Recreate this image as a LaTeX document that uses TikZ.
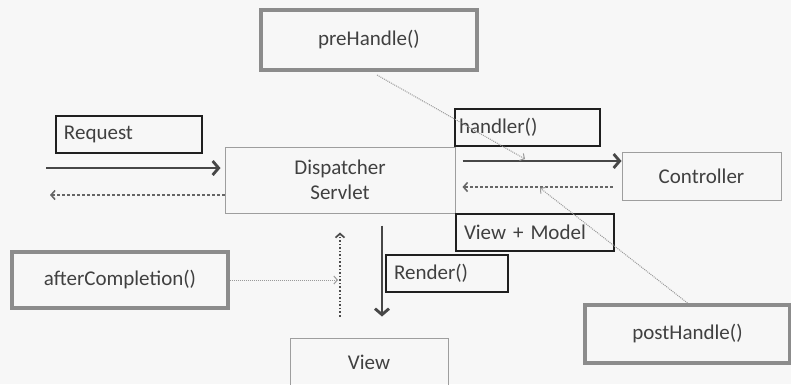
\documentclass[tikz,border=0pt]{standalone}
\usepackage{fontspec}
\setmainfont{Carlito}
\usetikzlibrary{arrows.meta}

\begin{document}
\begin{tikzpicture}[x=1pt, y=-1pt,
		txt/.style={font=\fontsize{21}{25}\selectfont, text=black!75},
		hook/.style={txt, draw=black!45, line width=1.4mm, inner sep=0pt},
		tag/.style={txt, draw=black!88, line width=0.7mm, inner xsep=8pt, inner ysep=0pt, align=left, anchor=west, minimum height=37pt},
		part/.style={txt, draw=black!38, line width=0.35mm, inner sep=0pt, align=center},
		flow/.style={line width=1mm, color=black!72, -{Straight Barb[length=6pt,width=14pt]}},
		back/.style={line width=0.55mm, color=black!60, densely dashed, -{Straight Barb[length=4pt,width=9pt]}},
		hint/.style={line width=0.35mm, color=black!40, densely dotted, -{Straight Barb[length=3.5pt,width=8pt,line width=0.35mm]}}]
			%%%%% START %%%%%
			
			\useasboundingbox[fill=black!3] (0, 0) rectangle (791, 384);
			
			\node[part, minimum width=230pt, minimum height=66pt] (disp) at (340, 180) {Dispatcher\\Servlet};
			\node[part, minimum width=159pt, minimum height=48pt] (ctrl) at (701.5, 176) {Controller};
			\node[part, minimum width=158pt, minimum height=48pt] (view) at (369, 362) {View};
			
			\node[hook, minimum width=216pt, minimum height=60pt] (pre) at (369, 40) {preHandle()};
			\node[hook, minimum width=205pt, minimum height=58pt] (post) at (687.5, 334) {postHandle()};
			\node[hook, minimum width=216pt, minimum height=56pt] (after) at (120, 280) {afterCompletion()};
			
			\node[tag, text width=130pt] (req) at (55, 134.5) {Request};
			\node[tag, text width=137pt, inner xsep=4pt] (hdl) at (454, 127) {handler()};
			\node[tag, text width=142pt] (vm) at (455, 232) {View + Model};
			\node[tag, text width=106pt] (rnd) at (385, 273.5) {Render()};
			
			\coordinate (reqin) at (46, 168);
			\coordinate (resout) at (50, 195);
			\coordinate (rx) at (382, 0);
			\coordinate (ux) at (340, 0);
			\coordinate (uy) at (0, 280);
			\coordinate (pretip) at (525, 159);
			\coordinate (posttip) at (540, 188);
			
			% request and response
			\draw[flow, shorten >=4pt] (reqin) -- (disp.west |- reqin);
			\draw[back] (disp.west |- resout) -- (resout);
			
			% controller
			\draw[flow] (disp.east |- 0, 161) ++(7, 0) -- (ctrl.west |- 0, 161);
			\draw[back, shorten <=9pt, shorten >=7pt] (ctrl.west |- 0, 187) -- (disp.east |- 0, 187);
			
			% view
			\draw[flow, shorten <=12pt, shorten >=21pt] (disp.south -| rx) -- (view.north -| rx);
			\draw[back, dotted, line width=0.6mm, color=black!70, shorten <=21pt, shorten >=19pt] (view.north -| ux) -- (disp.south -| ux);
			
			% interceptors
			\draw[hint] (pre.south) ++(8, 3) -- (pretip);
			\draw[hint] (post.north) -- (posttip);
			\draw[hint, shorten >=2pt] (after.east) -- (ux |- uy);
			
			%%%%% END %%%%%
		\end{tikzpicture}
\end{document}
